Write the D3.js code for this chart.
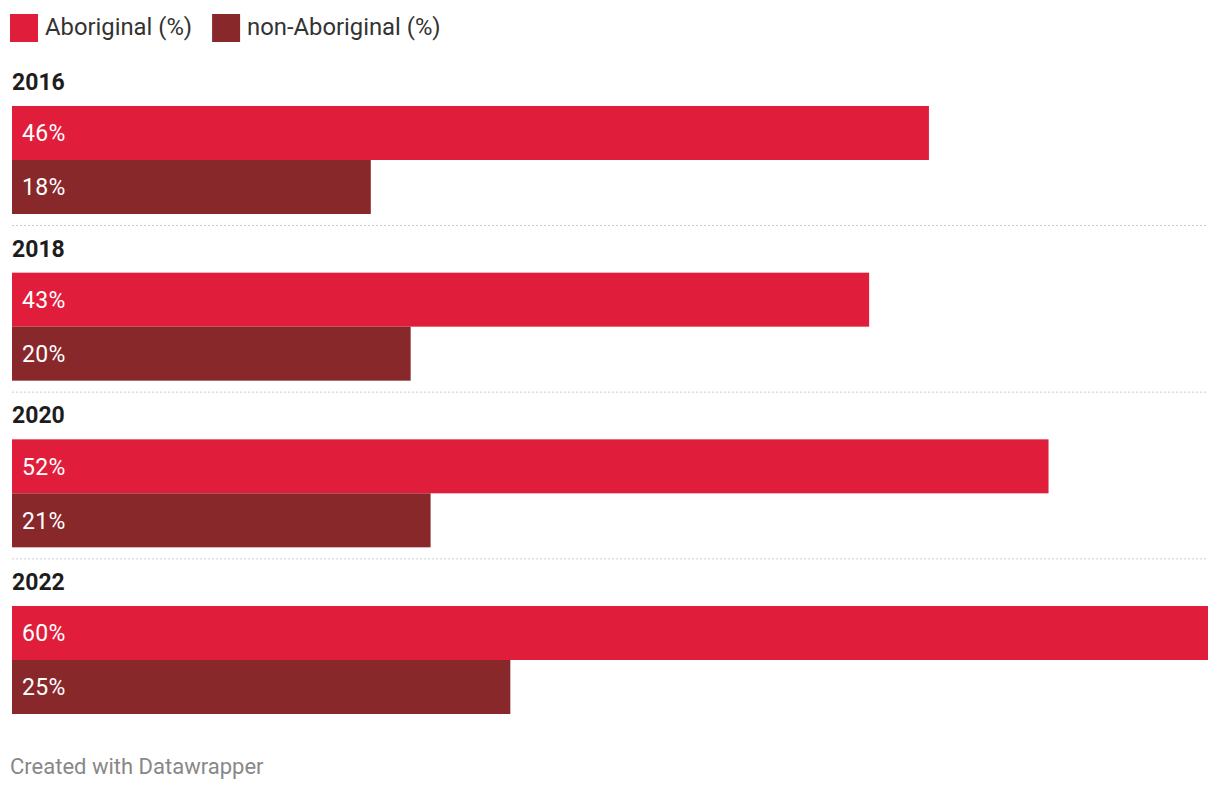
<!DOCTYPE html>
<html><head><meta charset="utf-8">
<script src="https://cdn.jsdelivr.net/npm/d3@7"></script>
<style>
body{margin:0;background:#fff;font-family:Roboto,"Noto Sans",sans-serif;}
</style></head>
<body><svg id="c" width="1220" height="790"></svg>
<script>
const years = ["2016","2018","2020","2022"];
const seriesNames = ["Aboriginal (%)","non-Aboriginal (%)"];
const aboriginal = [46,43,52,60];
const nonAboriginal = [18,20,21,25];
const colors = ["#e01e3c","#89282b"];

const svg = d3.select("#c");
const x = d3.scaleLinear().domain([0,60]).range([12,1208]);
const groupY = d3.scaleLinear().domain([0,3]).range([106,606]);
const barH = 54;

// legend
const leg = svg.append("g");
let lx = 10;
seriesNames.forEach((n,i)=>{
  leg.append("rect").attr("x",lx).attr("y",14).attr("width",28).attr("height",28).attr("fill",colors[i]);
  const t = leg.append("text").attr("x",lx+35).attr("y",35).attr("font-size",23.8).attr("fill","#333").text(n);
  lx += 35 + t.node().getComputedTextLength() + 20;
});

years.forEach((yr,i)=>{
  const top = groupY(i);
  svg.append("text").attr("x",12).attr("y",top-16).attr("font-size",23).attr("font-weight","bold").attr("fill","#1d1d1d").text(yr);
  [aboriginal[i], nonAboriginal[i]].forEach((v,j)=>{
    const y0 = top + j*barH;
    svg.append("rect").attr("x",x(0)).attr("y",y0).attr("width",x(v)-x(0)).attr("height",barH).attr("fill",colors[j]);
    svg.append("text").attr("x",22).attr("y",y0+barH/2).attr("dy","0.36em").attr("font-size",23).attr("letter-spacing","0.3px").attr("fill","#fff").text(v+"%");
  });
  if(i<years.length-1){
    svg.append("line").attr("x1",12).attr("x2",1208).attr("y1",top+2*barH+11.5).attr("y2",top+2*barH+11.5)
      .attr("stroke","#ccc").attr("stroke-width",1).attr("stroke-dasharray","2,2");
  }
});

svg.append("text").attr("x",10).attr("y",774).attr("font-size",22).attr("fill","#888").text("Created with Datawrapper");
</script></body></html>
